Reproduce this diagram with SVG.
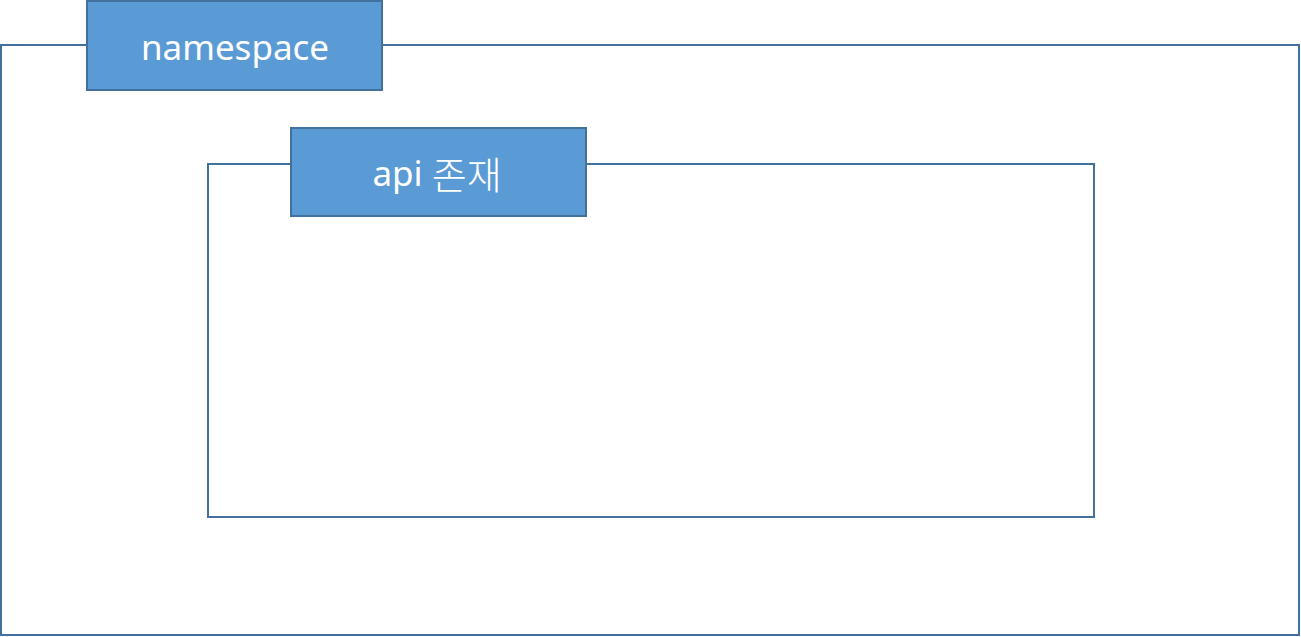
<svg xmlns="http://www.w3.org/2000/svg" width="1301" height="637" viewBox="0 0 1301 637">
<style>
.frame{fill:#FFFFFF;stroke:#41719C;stroke-width:2}
.tag{fill:#5B9BD5;stroke:#41719C;stroke-width:2}
.lbl{fill:#FFFFFF;font-family:"Noto Sans","Noto Sans CJK KR",sans-serif;font-size:35px;text-anchor:middle;dominant-baseline:central}
.ko{font-family:"Noto Sans CJK KR",sans-serif;font-size:38px;font-weight:300}
</style>
<rect width="1301" height="637" fill="#FFFFFF"/>
<g id="namespace">
<rect class="frame" x="1" y="45" width="1298" height="590"/>
<rect class="tag" x="87" y="1" width="295" height="89"/>
<text class="lbl" x="235" y="46">namespace</text>
</g>
<g id="api">
<rect class="frame" x="208" y="164" width="886" height="353"/>
<rect class="tag" x="291" y="128" width="295" height="88"/>
<text class="lbl" x="437" y="172">api <tspan class="ko">존재</tspan></text>
</g>
<g id="connectors"></g>
</svg>
